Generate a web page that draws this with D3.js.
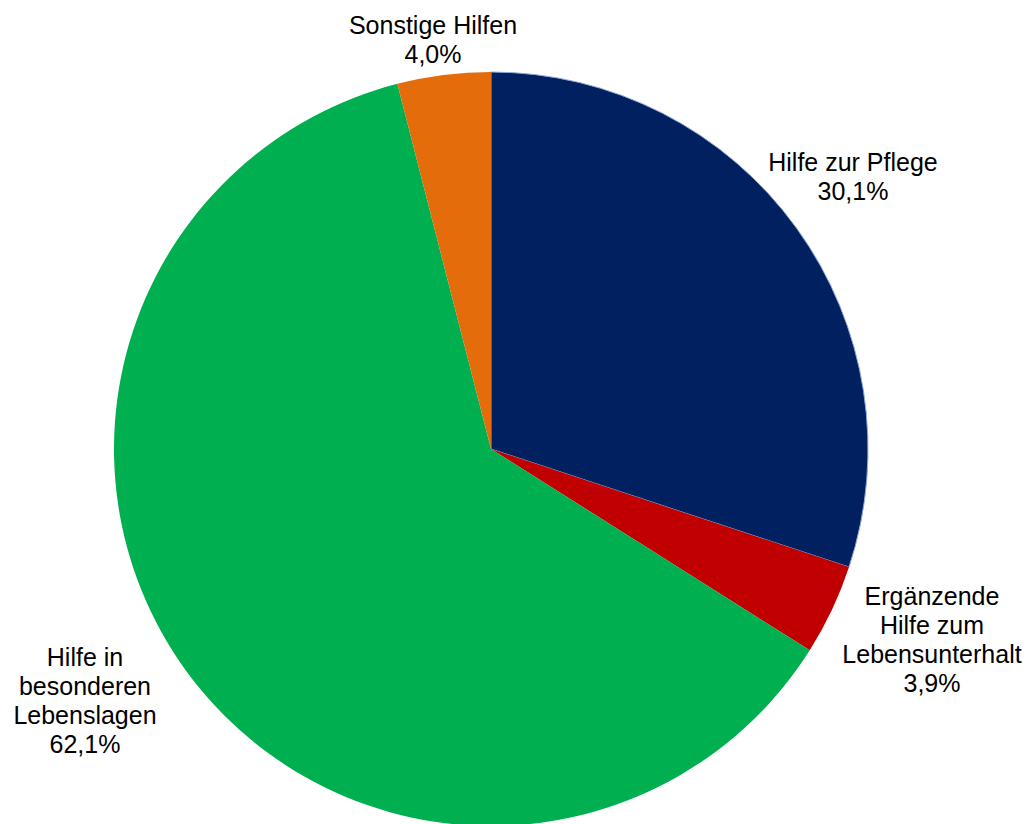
<!DOCTYPE html>
<html lang="de">
<head>
<meta charset="UTF-8">
<title>Sozialhilfe Anteile</title>
<style>
  body { margin: 0; background: #fff; }
  svg { display: block; }
  text { font-family: "Liberation Sans", Arial, sans-serif; font-size: 25px; fill: #000; }
</style>
</head>
<body>
<script src="https://d3js.org/d3.v7.min.js"></script>
<script>
const width = 1032;
const height = 824;

// slices clockwise from 12 o'clock
const categories = ["Hilfe zur Pflege", "Ergänzende Hilfe zum Lebensunterhalt", "Hilfe in besonderen Lebenslagen", "Sonstige Hilfen"];
const shares = [30.1, 3.9, 62.1, 4.0];
const labelLines = [
  ["Hilfe zur Pflege", "30,1%"],
  ["Ergänzende", "Hilfe zum", "Lebensunterhalt", "3,9%"],
  ["Hilfe in", "besonderen", "Lebenslagen", "62,1%"],
  ["Sonstige Hilfen", "4,0%"]
];
const colors = ["#002060", "#C00000", "#00B050", "#E46C0A"];

const cx = 491, cy = 449, radius = 377;

const svg = d3.select("body").append("svg")
    .attr("width", width)
    .attr("height", height);

const pie = d3.pie().sort(null).value(d => d);
const arcs = pie(shares);
const arc = d3.arc().innerRadius(0).outerRadius(radius);

const g = svg.append("g").attr("transform", `translate(${cx},${cy})`);

g.selectAll("path")
    .data(arcs)
    .enter()
    .append("path")
    .attr("d", arc)
    .attr("fill", (d, i) => colors[i])
    .attr("stroke", (d, i) => i === 0 ? "#8EA9DB" : "none")
    .attr("stroke-width", 1);

// label anchor points (outside the pie), centred multi-line text
const labelPos = [[853, 162], [932, 596], [85, 657], [433, 25]];
const lineH = 29.2;

svg.selectAll(".lbl")
    .data(labelLines)
    .enter()
    .append("text")
    .attr("class", "lbl")
    .attr("text-anchor", "middle")
    .attr("x", (d, i) => labelPos[i][0])
    .attr("y", (d, i) => labelPos[i][1])
    .selectAll("tspan")
    .data((d, i) => d.map(t => ({ t, i })))
    .enter()
    .append("tspan")
    .attr("x", d => labelPos[d.i][0])
    .attr("dy", (d, j) => j === 0 ? "0.35em" : lineH)
    .text(d => d.t);
</script>
</body>
</html>
